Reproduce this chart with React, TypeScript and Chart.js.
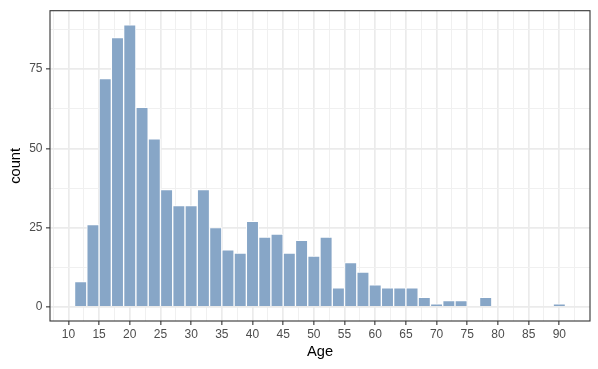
import React, { useEffect, useRef } from 'react';
import { Chart, registerables } from 'chart.js';

Chart.register(...registerables);

// Histogram bins (centre of each 2-year bin) and counts
const ages = [12, 14, 16, 18, 20, 22, 24, 26, 28, 30, 32, 34, 36, 38, 40, 42, 44, 46, 48, 50,
  52, 54, 56, 58, 60, 62, 64, 66, 68, 70, 72, 74, 76, 78, 80, 82, 84, 86, 88, 90];
const counts = [8, 26, 72, 85, 89, 63, 53, 37, 32, 32, 37, 25, 18, 17, 27, 22, 23, 17, 21, 16,
  22, 6, 14, 11, 7, 6, 6, 6, 3, 1, 2, 2, 0, 3, 0, 0, 0, 0, 0, 1];

const xMajorTicks = [10, 15, 20, 25, 30, 35, 40, 45, 50, 55, 60, 65, 70, 75, 80, 85, 90];
const xMinorTicks = [7.5, 12.5, 17.5, 22.5, 27.5, 32.5, 37.5, 42.5, 47.5, 52.5, 57.5, 62.5,
  67.5, 72.5, 77.5, 82.5, 87.5, 92.5];
const yMajorTicks = [0, 25, 50, 75];
const yMinorTicks = [12.5, 37.5, 62.5, 87.5];

const xTitle = 'Age';
const yTitle = 'count';

const X_MIN = 7;
const X_MAX = 95;
const Y_MIN = -4.45;
const Y_MAX = 93.45;

const FONT = "'Liberation Sans', Arial, Helvetica, sans-serif";

const panelBorder = {
  id: 'panelBorder',
  afterDatasetsDraw(chart: any) {
    const { ctx, chartArea: a } = chart;
    ctx.save();
    ctx.strokeStyle = '#333333';
    ctx.lineWidth = 1.1;
    ctx.strokeRect(a.left, a.top, a.right - a.left, a.bottom - a.top);
    ctx.restore();
  },
};

export default function App() {
  const canvasRef = useRef<HTMLCanvasElement | null>(null);

  useEffect(() => {
    document.body.style.margin = '0';
    const canvas = canvasRef.current;
    if (!canvas) return;

    const xTicksAll = [...xMajorTicks, ...xMinorTicks].sort((a, b) => a - b);
    const yTicksAll = [...yMajorTicks, ...yMinorTicks].sort((a, b) => a - b);

    const chart = new Chart(canvas, {
      type: 'bar',
      data: {
        datasets: [
          {
            data: ages.map((a, i) => ({ x: a, y: counts[i] })),
            backgroundColor: '#87A6C7',
            borderColor: '#ffffff',
            borderWidth: 1,
            borderSkipped: 'start',
            barPercentage: 1,
            categoryPercentage: 1,
          },
        ],
      },
      options: {
        responsive: false,
        animation: false,
        events: [],
        layout: { padding: { top: 6.8, right: 8, left: 0, bottom: 0 } },
        plugins: {
          legend: { display: false },
          tooltip: { enabled: false },
        },
        scales: {
          x: {
            type: 'linear',
            min: X_MIN,
            max: X_MAX,
            offset: false,
            afterBuildTicks: (scale: any) => {
              scale.ticks = xTicksAll.map((v) => ({ value: v }));
            },
            afterFit: (scale: any) => {
              scale.height = 48;
            },
            grid: {
              offset: false,
              color: (ctx: any) =>
                ctx.tick && xMajorTicks.includes(ctx.tick.value) ? '#EBEBEB' : '#F0F0F0',
              lineWidth: (ctx: any) =>
                ctx.tick && xMajorTicks.includes(ctx.tick.value) ? 1.7 : 1,
              tickColor: (ctx: any) =>
                ctx.tick && xMajorTicks.includes(ctx.tick.value) ? '#333333' : 'rgba(0,0,0,0)',
              tickWidth: 1.1,
              tickLength: 4,
              drawTicks: true,
            },
            border: { display: false },
            ticks: {
              autoSkip: false,
              maxRotation: 0,
              minRotation: 0,
              padding: 2.5,
              color: '#4D4D4D',
              font: { family: FONT, size: 12 },
              callback: (v: any) => (xMajorTicks.includes(Number(v)) ? String(v) : ''),
            },
            title: {
              display: true,
              text: xTitle,
              color: '#000000',
              font: { family: FONT, size: 14.67 },
              padding: { top: 0, bottom: 8.6 },
            },
          },
          y: {
            type: 'linear',
            min: Y_MIN,
            max: Y_MAX,
            afterBuildTicks: (scale: any) => {
              scale.ticks = yTicksAll.map((v) => ({ value: v }));
            },
            afterFit: (scale: any) => {
              scale.width = 50;
            },
            grid: {
              color: (ctx: any) =>
                ctx.tick && yMajorTicks.includes(ctx.tick.value) ? '#EBEBEB' : '#F0F0F0',
              lineWidth: (ctx: any) =>
                ctx.tick && yMajorTicks.includes(ctx.tick.value) ? 1.7 : 1,
              tickColor: (ctx: any) =>
                ctx.tick && yMajorTicks.includes(ctx.tick.value) ? '#333333' : 'rgba(0,0,0,0)',
              tickWidth: 1.1,
              tickLength: 4,
              drawTicks: true,
            },
            border: { display: false },
            ticks: {
              autoSkip: false,
              padding: 3.5,
              color: '#4D4D4D',
              font: { family: FONT, size: 12 },
              callback: (v: any) => (yMajorTicks.includes(Number(v)) ? String(v) : ''),
            },
            title: {
              display: true,
              text: yTitle,
              color: '#000000',
              font: { family: FONT, size: 14.67 },
              padding: { top: 6.7, bottom: 0 },
            },
          },
        },
      },
      plugins: [panelBorder],
    });

    return () => {
      chart.destroy();
    };
  }, []);

  return (
    <div style={{ width: 598, height: 369 }}>
      <canvas ref={canvasRef} width={598} height={369} style={{ display: 'block' }} />
    </div>
  );
}
